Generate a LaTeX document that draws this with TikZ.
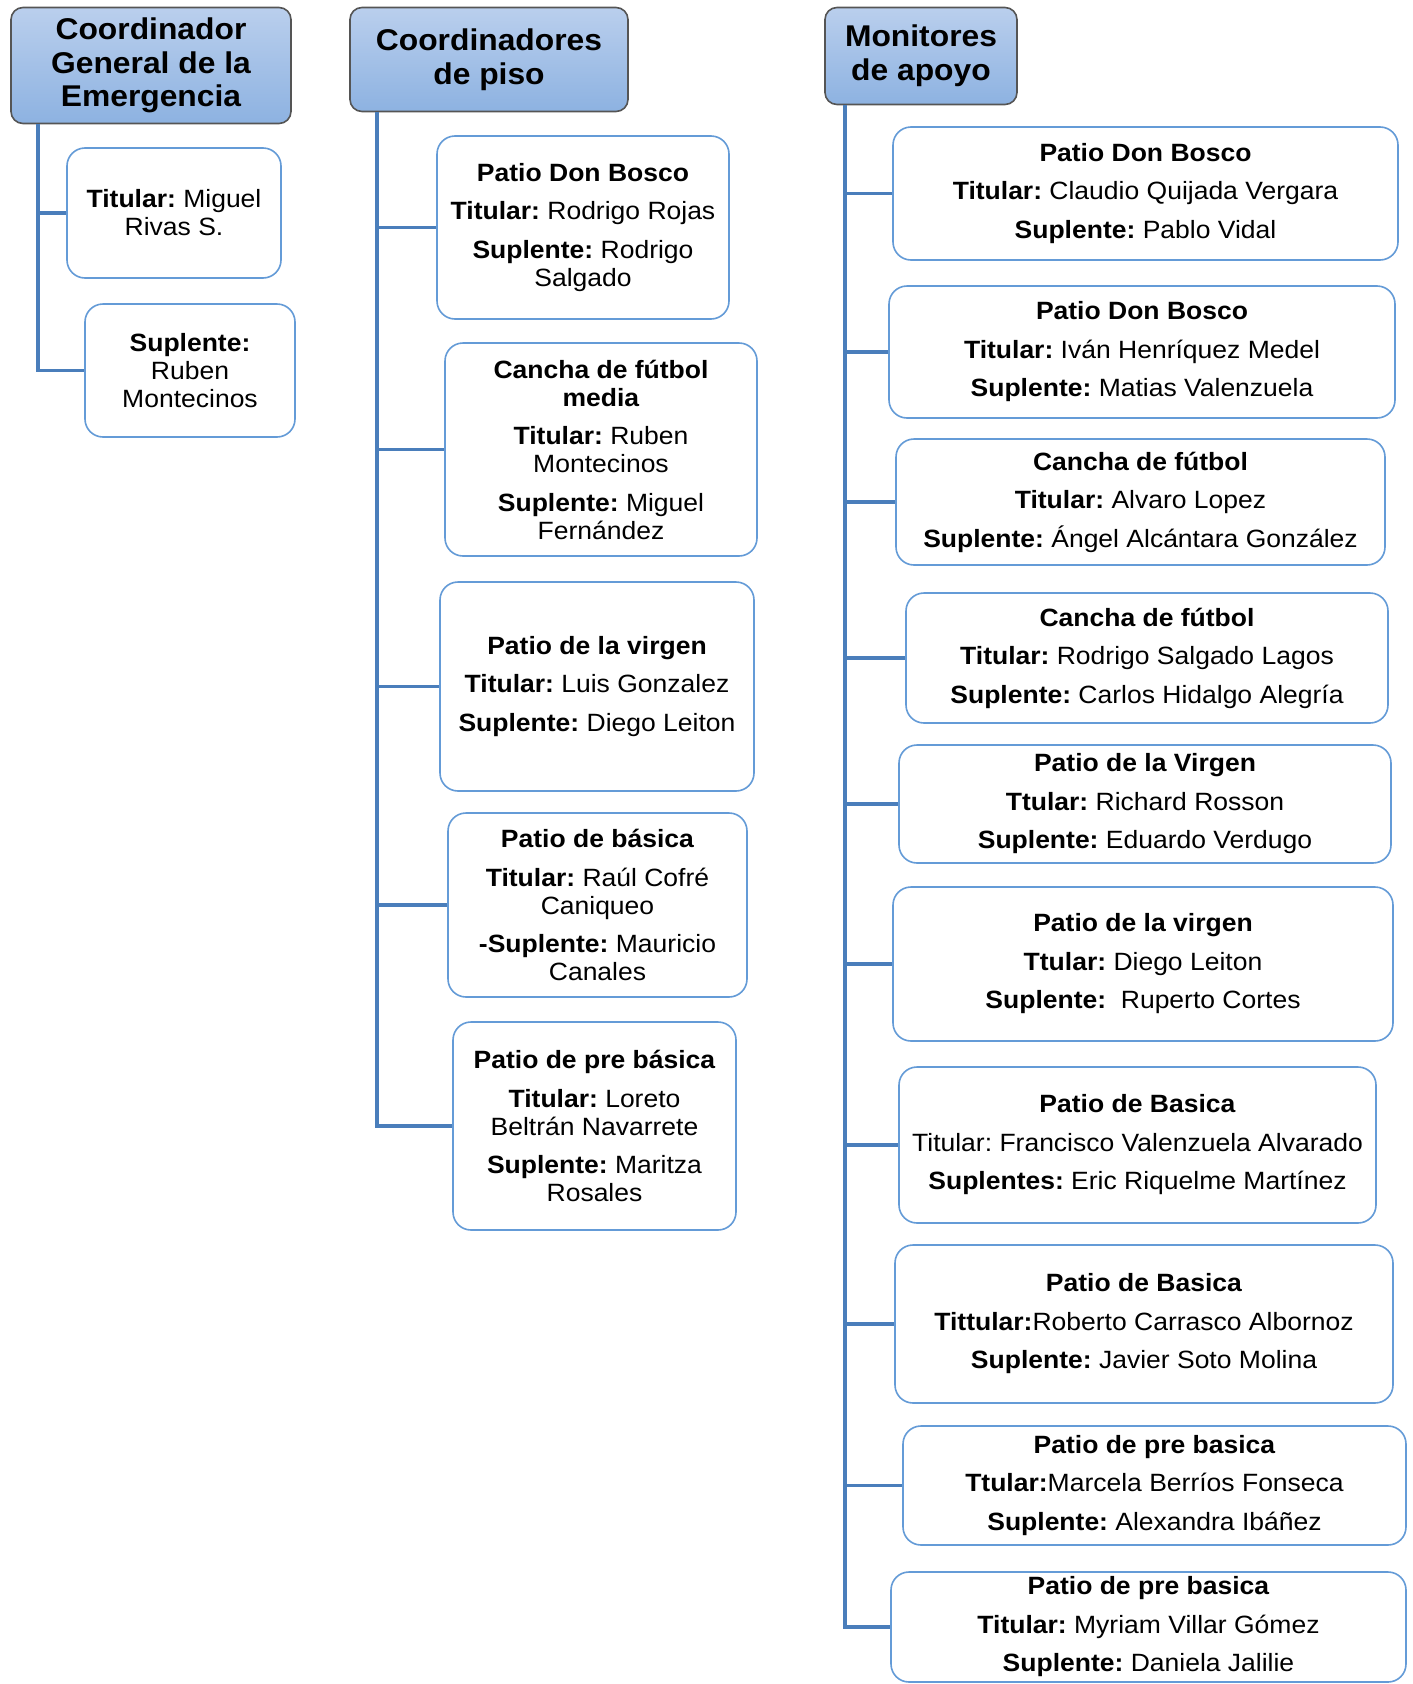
\documentclass[tikz,border=0pt]{standalone}
\usepackage{fontspec}
\setmainfont{Liberation Sans}[FakeStretch=1.06]
\definecolor{connblue}{RGB}{74,126,187}
\definecolor{childborder}{RGB}{100,155,215}
\definecolor{hdrtop}{RGB}{186,207,237}
\definecolor{hdrbot}{RGB}{141,178,225}
\definecolor{hdrborder}{RGB}{85,85,85}
\frenchspacing
\begin{document}
\begin{tikzpicture}[x=1pt,y=-1pt,
  conn/.style={draw=connblue,line width=3.3pt},
  hdr/.style={draw=hdrborder,line width=1.6pt,rounded corners=12pt,top color=hdrtop,bottom color=hdrbot,
    align=center,inner sep=0pt,font=\fontsize{30}{33.8}\selectfont\bfseries},
  child/.style={draw=childborder,line width=1.6pt,rounded corners=18pt,fill=white,
    align=center,inner sep=0pt,font=\fontsize{25}{28}\selectfont\frenchspacing},
  bw/.style 2 args={minimum width=#1pt,minimum height=#2pt}]
\fill[white] (0,0) rectangle (1413,1684);
\useasboundingbox (0,0) rectangle (1413,1684);
\def\gp{\\[10.5pt]}
% ---------- column 1 ----------
\node[hdr,bw={280}{116}] (h1) at (151,65.5) {Coordinador\\General de la\\Emergencia};
\node[child,bw={214}{130}] (c1a) at (174,213) {\textbf{Titular:} Miguel\\Rivas S.};
\node[child,bw={210}{133}] (c1b) at (190,370.5) {\textbf{Suplente:}\\Ruben\\Montecinos};
\coordinate (x1) at (38,0);
\coordinate (t1) at (h1.south -| x1);
\draw[conn] (t1) |- (c1a.west);
\draw[conn] (t1) |- (c1b.west);
% ---------- column 2 ----------
\node[hdr,bw={278}{104}] (h2) at (489,59.5) {Coordinadores\\de piso};
\node[child,bw={292}{183}] (pa) at (583,227.5) {\textbf{Patio Don Bosco}\gp\textbf{Titular:} Rodrigo Rojas\gp\textbf{Suplente:} Rodrigo\\Salgado};
\node[child,bw={312}{213}] (pb) at (601,449.5) {\textbf{Cancha de fútbol}\\\textbf{media}\gp\textbf{Titular:} Ruben\\Montecinos\gp\textbf{Suplente:} Miguel\\Fernández};
\node[child,bw={314}{209}] (pc) at (597,686.5) {\textbf{Patio de la virgen}\gp\textbf{Titular:} Luis Gonzalez\gp\textbf{Suplente:} Diego Leiton};
\node[child,bw={299}{184}] (pd) at (597.5,905) {\textbf{Patio de básica}\gp\textbf{Titular:} Raúl Cofré\\Caniqueo\gp\textbf{-Suplente:} Mauricio\\Canales};
\node[child,bw={283}{208}] (pe) at (594.5,1126) {\textbf{Patio de pre básica}\gp\textbf{Titular:} Loreto\\Beltrán Navarrete\gp\textbf{Suplente:} Maritza\\Rosales};
\coordinate (x2) at (377,0);
\coordinate (t2) at (h2.south -| x2);
\foreach \n in {pa,pb,pc,pd,pe} \draw[conn] (t2) |- (\n.west);
% ---------- column 3 ----------
\node[hdr,bw={192}{97}] (h3) at (921,56) {Monitores\\de apoyo};
\node[child,bw={505}{133}] (r1) at (1145.5,193.5) {\textbf{Patio Don Bosco}\gp\textbf{Titular:} Claudio Quijada Vergara\gp\textbf{Suplente:} Pablo Vidal};
\node[child,bw={506}{132}] (r2) at (1142,352) {\textbf{Patio Don Bosco}\gp\textbf{Titular:} Iván Henríquez Medel\gp\textbf{Suplente:} Matias Valenzuela};
\node[child,bw={489}{126}] (r3) at (1140.5,502) {\textbf{Cancha de fútbol}\gp\textbf{Titular:} Alvaro Lopez\gp\textbf{Suplente:} Ángel Alcántara González};
\node[child,bw={482}{130}] (r4) at (1147,658) {\textbf{Cancha de fútbol}\gp\textbf{Titular:} Rodrigo Salgado Lagos\gp\textbf{Suplente:} Carlos Hidalgo Alegría};
\node[child,bw={492}{118}] (r5) at (1145,804) {\textbf{Patio de la Virgen}\gp\textbf{Ttular:} Richard Rosson\gp\textbf{Suplente:} Eduardo Verdugo};
\node[child,bw={500}{154}] (r6) at (1143,964) {\textbf{Patio de la virgen}\gp\textbf{Ttular:} Diego Leiton\gp\textbf{Suplente:}\ \ Ruperto Cortes};
\node[child,bw={477}{156}] (r7) at (1137.5,1145) {\textbf{Patio de Basica}\gp Titular: Francisco Valenzuela Alvarado\gp\textbf{Suplentes:} Eric Riquelme Martínez};
\node[child,bw={498}{158}] (r8) at (1144,1324) {\textbf{Patio de Basica}\gp\textbf{Tittular:}Roberto Carrasco Albornoz\gp\textbf{Suplente:} Javier Soto Molina};
\node[child,bw={503}{119}] (r9) at (1154.5,1485.5) {\textbf{Patio de pre basica}\gp\textbf{Ttular:}Marcela Berríos Fonseca\gp\textbf{Suplente:} Alexandra Ibáñez};
\node[child,bw={515}{110}] (r10) at (1148.5,1627) {\textbf{Patio de pre basica}\gp\textbf{Titular:} Myriam Villar Gómez\gp\textbf{Suplente:} Daniela Jalilie};
\coordinate (x3) at (845,0);
\coordinate (t3) at (h3.south -| x3);
\foreach \n in {r1,r2,r3,r4,r5,r6,r7,r8,r9,r10} \draw[conn] (t3) |- (\n.west);
\end{tikzpicture}
\end{document}
